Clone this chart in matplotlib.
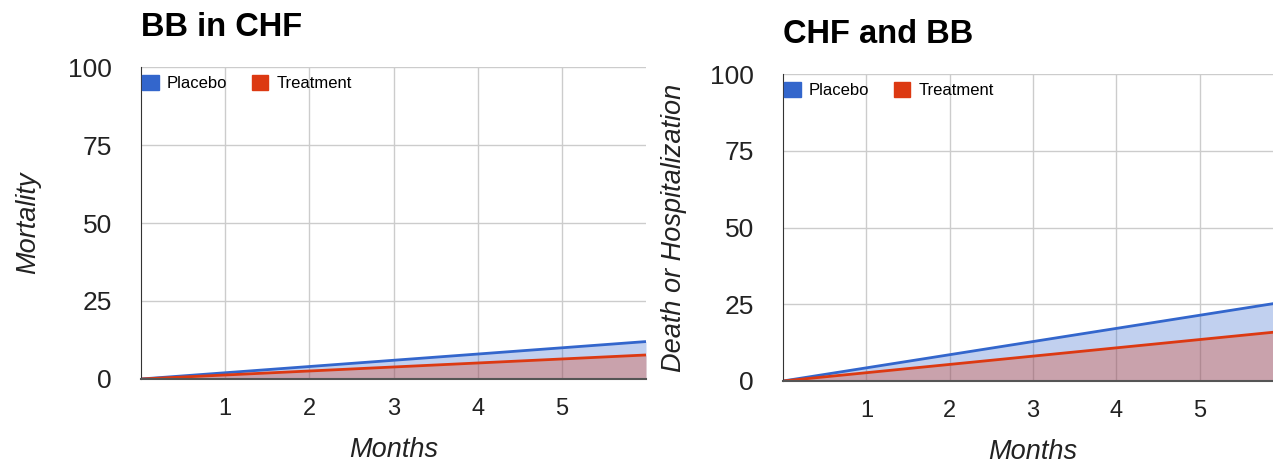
import matplotlib
matplotlib.use("Agg")
from matplotlib import pyplot as plt
from matplotlib.patches import Patch

plt.rcParams['font.family'] = ['Liberation Sans', 'DejaVu Sans']

# data
months = [0, 6]
bb_placebo = [0, 12]
bb_treatment = [0, 7.7]
chf_placebo = [0, 25.7]
chf_treatment = [0, 16.2]

x_ticks = [1, 2, 3, 4, 5]
y_ticks = [0, 25, 50, 75, 100]
series_names = ['Placebo', 'Treatment']

BLUE = '#3366cc'
RED = '#dc3912'


def draw(ax, placebo, treatment, title, ylabel):
    """One Google-style area chart"""
    ax.fill_between(months, 0, placebo, color=BLUE, alpha=0.3, lw=0)
    ax.fill_between(months, 0, treatment, color=RED, alpha=0.3, lw=0)
    ax.plot(months, placebo, color=BLUE, lw=2, solid_capstyle='butt')
    ax.plot(months, treatment, color=RED, lw=2, solid_capstyle='butt')
    ax.set_xlim(0, 6)
    ax.set_ylim(0, 100)
    ax.set_xticks(x_ticks)
    ax.set_yticks(y_ticks)
    ax.grid(True, color='#cccccc', lw=1)
    ax.set_axisbelow(True)
    for s in ['top', 'right']:
        ax.spines[s].set_visible(False)
    ax.spines['left'].set_color('#333333')
    ax.spines['bottom'].set_color('#555555')
    ax.spines['bottom'].set_linewidth(1.5)
    ax.tick_params(length=0, colors='#222222')
    ax.tick_params(axis='x', pad=14, labelsize=17)
    ax.tick_params(axis='y', pad=21, labelsize=19)
    ax.set_xlabel('Months', fontsize=19.5, style='italic', color='#222222', labelpad=12)
    ax.set_ylabel(ylabel, fontsize=19.5, style='italic', color='#222222')
    ax.set_title(title, fontsize=23.5, fontweight='bold', loc='left', pad=22)
    handles = [Patch(color=BLUE), Patch(color=RED)]
    h = ax.get_window_extent().height
    ax.legend(handles, series_names, loc='upper left', ncol=2, frameon=False,
              bbox_to_anchor=(0.002, 1 - 8 / h), borderaxespad=0, borderpad=0,
              fontsize=12, handlelength=1.0, handleheight=1.0, handletextpad=0.5,
              columnspacing=1.45)


fig = plt.figure(figsize=(12.73, 4.63), dpi=100)
ax1 = fig.add_axes([141 / 1273, 1 - 379 / 463, 505 / 1273, 312 / 463])
ax2 = fig.add_axes([783 / 1273, 1 - 381 / 463, 500 / 1273, 307 / 463])

draw(ax1, bb_placebo, bb_treatment, 'BB in CHF', 'Mortality')
draw(ax2, chf_placebo, chf_treatment, 'CHF and BB', 'Death or Hospitalization')
ax1.yaxis.set_label_coords(-0.198, 0.5)
ax2.yaxis.set_label_coords(-0.192, 0.5)

fig.savefig('out.png', dpi=100)
